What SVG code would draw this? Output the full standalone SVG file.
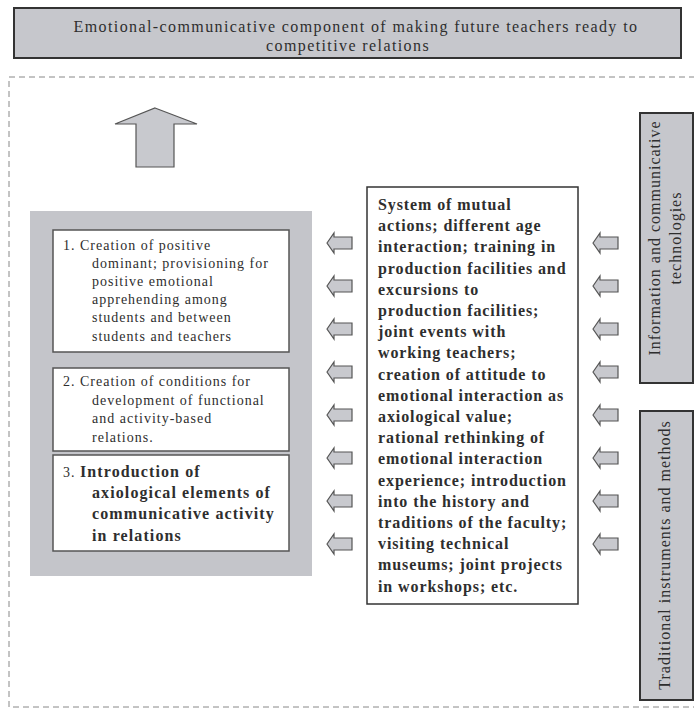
<svg xmlns="http://www.w3.org/2000/svg" xmlns:xlink="http://www.w3.org/1999/xlink" width="694" height="710" viewBox="0 0 694 710">
<style>
text{font-family:"Liberation Serif","Times New Roman",serif;fill:#2e2e2e}
.t{font-size:16px;letter-spacing:1.4px}
.r{font-size:14px;letter-spacing:1px}
.b{font-size:16px;font-weight:bold;letter-spacing:1.1px}
.m{font-size:16px;font-weight:bold;letter-spacing:0.9px}
.v{font-size:16px;letter-spacing:1px}
.gray{fill:#c6c7cc;stroke:#333;stroke-width:2}
.box{fill:#fff;stroke:#555;stroke-width:1.5}
.arr{fill:#c8c9ce;stroke:#555;stroke-width:1.2;stroke-linejoin:miter}
</style>
<defs>
<path id="la" d="M0,0 L7,-10 L7,-6 L25,-6 L25,6 L7,6 L7,10 Z" class="arr"/>
</defs>
<rect width="694" height="710" fill="#fff"/>
<g id="frame">
<rect x="9" y="77" width="700" height="630" fill="none" stroke="#888" stroke-width="1" stroke-dasharray="6 4"/>
</g>
<g id="title">
<rect x="14" y="8" width="667" height="50" class="gray"/>
<text class="t" x="356" y="32" text-anchor="middle">Emotional-communicative component of making future teachers ready to</text>
<text class="t" x="348" y="51" text-anchor="middle">competitive relations</text>
</g>
<g id="panel">
<rect x="30" y="211" width="282" height="365" fill="#c4c5ca"/>
</g>
<g id="box1">
<rect x="53" y="230" width="236" height="122" class="box"/>
<text class="r" x="63" y="250">1. Creation of positive</text>
<text class="r" x="92" y="268">dominant; provisioning for</text>
<text class="r" x="92" y="286">positive emotional</text>
<text class="r" x="92" y="304">apprehending among</text>
<text class="r" x="92" y="322">students and between</text>
<text class="r" x="92" y="341">students and teachers</text>
</g>
<g id="box2">
<rect x="53" y="368" width="236" height="83" class="box"/>
<text class="r" x="63" y="386">2. Creation of conditions for</text>
<text class="r" x="92" y="405">development of functional</text>
<text class="r" x="92" y="423">and activity-based</text>
<text class="r" x="92" y="442">relations.</text>
</g>
<g id="box3">
<rect x="53" y="455" width="236" height="96" class="box"/>
<text x="63" y="477"><tspan class="r">3. </tspan><tspan class="b">Introduction of</tspan></text>
<text class="b" x="92" y="498">axiological elements of</text>
<text class="b" x="92" y="519">communicative activity</text>
<text class="b" x="92" y="541">in relations</text>
</g>
<g id="middle">
<rect x="367" y="187" width="211" height="417" fill="#fff" stroke="#333" stroke-width="1.5"/>
<text class="m" x="378" y="210">System of mutual</text>
<text class="m" x="378" y="231.2">actions; different age</text>
<text class="m" x="378" y="252.4">interaction; training in</text>
<text class="m" x="378" y="273.6">production facilities and</text>
<text class="m" x="378" y="294.8">excursions to</text>
<text class="m" x="378" y="316">production facilities;</text>
<text class="m" x="378" y="337.2">joint events with</text>
<text class="m" x="378" y="358.4">working teachers;</text>
<text class="m" x="378" y="379.6">creation of attitude to</text>
<text class="m" x="378" y="400.8">emotional interaction as</text>
<text class="m" x="378" y="422">axiological value;</text>
<text class="m" x="378" y="443.2">rational rethinking of</text>
<text class="m" x="378" y="464.4">emotional interaction</text>
<text class="m" x="378" y="485.6">experience; introduction</text>
<text class="m" x="378" y="506.8">into the history and</text>
<text class="m" x="378" y="528">traditions of the faculty;</text>
<text class="m" x="378" y="549.2">visiting technical</text>
<text class="m" x="378" y="570.4">museums; joint projects</text>
<text class="m" x="378" y="591.6">in workshops; etc.</text>
</g>
<g id="ict">
<rect x="640" y="113" width="53" height="270" class="gray"/>
<text class="v" transform="translate(660,238) rotate(-90)" text-anchor="middle">Information and communicative</text>
<text class="v" transform="translate(681,238) rotate(-90)" text-anchor="middle">technologies</text>
</g>
<g id="traditional">
<rect x="640" y="411" width="53" height="289" class="gray"/>
<text class="v" transform="translate(670,555) rotate(-90)" text-anchor="middle">Traditional instruments and methods</text>
</g>
<g id="connectors">
<polygon points="155,108 197,124 174,124 174,167 136,167 136,124 115,124" class="arr"/>
<use xlink:href="#la" x="327" y="243"/>
<use xlink:href="#la" x="327" y="286"/>
<use xlink:href="#la" x="327" y="329"/>
<use xlink:href="#la" x="327" y="372"/>
<use xlink:href="#la" x="327" y="415"/>
<use xlink:href="#la" x="327" y="458"/>
<use xlink:href="#la" x="327" y="501"/>
<use xlink:href="#la" x="327" y="544"/>
<use xlink:href="#la" x="593" y="243"/>
<use xlink:href="#la" x="593" y="286"/>
<use xlink:href="#la" x="593" y="329"/>
<use xlink:href="#la" x="593" y="372"/>
<use xlink:href="#la" x="593" y="415"/>
<use xlink:href="#la" x="593" y="458"/>
<use xlink:href="#la" x="593" y="501"/>
<use xlink:href="#la" x="593" y="544"/>
</g>
</svg>
